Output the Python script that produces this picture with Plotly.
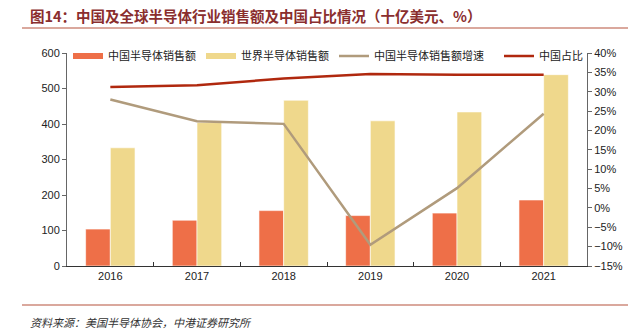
import plotly.graph_objects as go

# Data (billions USD / %)
years = ["2016", "2017", "2018", "2019", "2020", "2021"]
china_sales = [104, 129, 156, 142, 149, 186]
world_sales = [333, 404, 467, 409, 434, 539]
china_growth = [28.0, 22.4, 21.7, -9.5, 5.1, 24.3]
china_share = [31.2, 31.7, 33.4, 34.6, 34.4, 34.4]

C_CHINA = "#EE6F48"
C_WORLD = "#EFD88C"
C_GROWTH = "#B09B7C"
C_SHARE = "#B0280E"

W, H = 643, 333
ML, MR, MT, MB = 67, 56, 53, 67
PW, PH = W - ML - MR, H - MT - MB


def px_x(x):
    return (x - ML) / PW


def px_y(y):
    return (H - MB - y) / PH


tick_font = dict(family="Liberation Sans, Arial, sans-serif", size=11, color="#222")
cjk = "Noto Sans CJK SC, sans-serif"

fig = go.Figure()

fig.add_trace(go.Bar(
    x=years, y=china_sales, name="中国半导体销售额",
    marker=dict(color=C_CHINA, line=dict(color="rgba(255,255,255,0.6)", width=1)),
    showlegend=False, yaxis="y",
))
fig.add_trace(go.Bar(
    x=years, y=world_sales, name="世界半导体销售额",
    marker=dict(color=C_WORLD, line=dict(color="rgba(255,255,255,0.6)", width=1)),
    showlegend=False, yaxis="y",
))
fig.add_trace(go.Scatter(
    x=years, y=china_growth, mode="lines", name="中国半导体销售额增速",
    line=dict(color=C_GROWTH, width=2.5), yaxis="y2", showlegend=False,
))
fig.add_trace(go.Scatter(
    x=years, y=china_share, mode="lines", name="中国占比",
    line=dict(color=C_SHARE, width=2.5), yaxis="y2", showlegend=False,
))

# Legend entries drawn as thick strokes
legend_items = [
    ("中国半导体销售额", C_CHINA, 6, "legend"),
    ("世界半导体销售额", C_WORLD, 6, "legend"),
    ("中国半导体销售额增速", C_GROWTH, 2.5, "legend"),
    ("中国占比", C_SHARE, 2.5, "legend2"),
]
for name, color, width, lg in legend_items:
    fig.add_trace(go.Scatter(
        x=[None], y=[None], mode="lines", name=name,
        line=dict(color=color, width=width), yaxis="y2", legend=lg,
    ))

legend_style = dict(
    orientation="h", xanchor="left", yanchor="middle",
    font=dict(family=cjk, size=11, color="#222"),
    bgcolor="rgba(0,0,0,0)", itemwidth=30, tracegroupgap=0,
)

fig.update_layout(
    width=W, height=H,
    margin=dict(l=ML, r=MR, t=MT, b=MB),
    paper_bgcolor="white", plot_bgcolor="white",
    barmode="group", bargap=0.43, bargroupgap=0,
    showlegend=True,
    legend=dict(x=px_x(68), y=px_y(56), **legend_style),
    legend2=dict(x=px_x(499), y=px_y(56), **legend_style),
    xaxis=dict(
        type="category", showline=True, linecolor="#333", linewidth=1,
        ticks="inside", tickson="boundaries", ticklen=4, tickcolor="#333",
        tickfont=tick_font, showgrid=False, zeroline=False,
    ),
    yaxis=dict(
        range=[0, 600], dtick=100, showline=True, linecolor="#666", linewidth=1,
        ticks="outside", ticklen=4, tickcolor="#666", tickfont=tick_font,
        showgrid=False, zeroline=False,
    ),
    yaxis2=dict(
        range=[-15, 40], dtick=5, ticksuffix="%", overlaying="y", side="right",
        showline=True, linecolor="#666", linewidth=1, ticks="outside", ticklen=4,
        tickcolor="#666", tickfont=tick_font, showgrid=False, zeroline=False,
    ),
    annotations=[
        dict(
            text="<b>图14：中国及全球半导体行业销售额及中国占比情况（十亿美元、%）</b>",
            xref="paper", yref="paper", x=px_x(28), y=px_y(15),
            xanchor="left", yanchor="middle", showarrow=False,
            font=dict(family=cjk, size=14.5, color="#8A2E2E"),
        ),
        dict(
            text="<i>资料来源：美国半导体协会，中港证券研究所</i>",
            xref="paper", yref="paper", x=px_x(28), y=px_y(322),
            xanchor="left", yanchor="middle", showarrow=False,
            font=dict(family=cjk, size=11, color="#333"),
        ),
    ],
    shapes=[
        dict(type="line", xref="paper", yref="paper",
             x0=px_x(22), x1=px_x(628), y0=px_y(28), y1=px_y(28),
             line=dict(color="#B5533C", width=1.2)),
        dict(type="line", xref="paper", yref="paper",
             x0=px_x(22), x1=px_x(628), y0=px_y(305), y1=px_y(305),
             line=dict(color="#B5533C", width=1.2)),
    ],
)

fig.write_html("out.html")
